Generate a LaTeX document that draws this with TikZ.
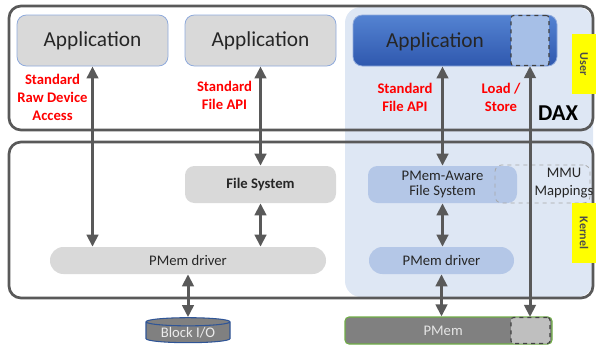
\documentclass[tikz,border=0pt]{standalone}
\usepackage{fontspec}
\setmainfont{Carlito}
\usetikzlibrary{arrows.meta,shapes.geometric}
\definecolor{framegray}{HTML}{595959}
\definecolor{boxgray}{HTML}{D9D9D9}
\definecolor{appedge}{HTML}{8FAADC}
\definecolor{paleblue}{HTML}{B4C7E7}
\definecolor{daxblue}{HTML}{DEE7F4}
\definecolor{apptop}{HTML}{5483D2}
\definecolor{appbot}{HTML}{2F58AE}
\definecolor{lsblue}{HTML}{A6BFE7}
\definecolor{pmemgray}{HTML}{808080}
\definecolor{pmemedge}{HTML}{70AD47}
\definecolor{blockedge}{HTML}{2F5597}
\definecolor{labred}{HTML}{FF0000}
\definecolor{tagyellow}{HTML}{FFFF00}
\begin{document}
\begin{tikzpicture}[x=0.75pt, y=-0.75pt,
  frame/.style={draw=framegray, line width=2pt, rounded corners=9pt},
  appbox/.style={draw=appedge, line width=0.6pt, rounded corners=7pt, minimum height=38.25pt,
    text=black!85, font=\fontsize{16}{19}\selectfont},
  layer/.style={rounded corners=7pt, minimum height=27.75pt, text=black!85, font=\fontsize{11}{11}\selectfont, align=center},
  drv/.style={rounded corners=10pt, minimum height=20.25pt, text=black!85, font=\fontsize{11}{13}\selectfont},
  dashbox/.style={draw=black!75, dashed, line width=0.8pt, rounded corners=2pt},
  redlab/.style={text=labred, align=center, font=\bfseries\fontsize{11}{13.5}\selectfont},
  tag/.style={fill=tagyellow, rotate=-90, minimum width=45pt, minimum height=18pt, inner sep=0pt,
    text=black!70, font=\bfseries\fontsize{9}{10}\selectfont},
  conn/.style={draw=framegray, line width=2.25pt, {Triangle[width=8.5pt,length=9pt]}-{Triangle[width=8.5pt,length=9pt]}}]
  \useasboundingbox (0,0) rectangle (596,350);

  % DAX area and the two layers
  \fill[daxblue, rounded corners=12pt] (345,7) rectangle (593,297);
  \draw[frame] (9,6) rectangle (593,130);
  \draw[frame] (9,142) rectangle (593,298);

  % user space
  \node[appbox, fill=boxgray, minimum width=113.25pt] (app1) at (92.5,40.5) {Application};
  \node[appbox, fill=boxgray, minimum width=113.25pt] (app2) at (260.5,40.5) {Application};
  \node[appbox, top color=apptop, bottom color=appbot, minimum width=153pt, text depth=0pt] (app3) at (455,40.5) {\hspace*{-30pt}Application};
  \node[dashbox, fill=lsblue, minimum width=28.5pt, minimum height=37.5pt] (ls) at (530,40.5) {};

  \node[redlab] (rawlab) at (52.5,97) {Standard\\Raw Device\\Access};
  \node[redlab] (filelab) at (224.5,95.5) {Standard\\File API};
  \node[redlab] (daxfilelab) at (405,97.5) {Standard\\File API};
  \node[redlab] (lslab) at (501,97.5) {Load /\\Store};
  \node[font=\bfseries\fontsize{17}{20}\selectfont] (dax) at (558,113) {DAX};

  % kernel space
  \node[layer, fill=boxgray, minimum width=113.25pt, font=\bfseries\fontsize{11}{11}\selectfont] (fs) at (260.5,184.5) {File System};
  \node[drv, fill=boxgray, minimum width=207pt] (drvL) at (188,260.5) {PMem driver};
  \node[layer, fill=paleblue, minimum width=111.75pt] (pfs) at (442.5,184.5) {PMem-Aware\\File System};
  \node[drv, fill=paleblue, minimum width=108.75pt] (pdrv) at (441.5,260.5) {PMem driver};
  \node[draw=black!35, dashed, line width=0.6pt, rounded corners=5pt, minimum width=71.25pt, minimum height=28.5pt] (mmu) at (542.5,184) {};
  \node[align=center, text=black!85, font=\fontsize{11}{13.5}\selectfont] (mmutext) at (564,183) {MMU\\Mappings};

  \node[tag] (user) at (584,64) {User};
  \node[tag] (kernel) at (584,233) {Kernel};

  % devices
  \node[cylinder, shape border rotate=90, aspect=0.15, draw=blockedge, line width=0.8pt, fill=pmemgray,
    minimum width=63pt, minimum height=18.75pt, inner sep=0pt, text=white!92!black,
    font=\fontsize{11}{13}\selectfont] (block) at (188,332.5) {Block I/O};
  \node[draw=pmemedge, fill=pmemgray, line width=0.8pt, rounded corners=3pt, minimum width=155.25pt,
    minimum height=20.25pt, text=white!90!black, font=\fontsize{11}{13}\selectfont] (pmem) at (448.5,330.5) {\hspace*{-8pt}PMem};
  \node[dashbox, fill=black!25, minimum width=29.25pt, minimum height=19.5pt] (pls) at (530.5,330.5) {};

  % connectors
  \draw[conn] (app1.south) -- (app1.south |- drvL.north);
  \draw[conn] (app2.south) -- (fs.north);
  \draw[conn] (fs.south) -- (fs.south |- drvL.north);
  \draw[conn] (drvL.south) -- (drvL.south |- block.north);
  \draw[conn] (app3.south -| pfs.north) -- (pfs.north);
  \draw[conn] (pfs.south) -- (pfs.south |- pdrv.north);
  \draw[conn] (pdrv.south) -- (pdrv.south |- pmem.north);
  \draw[conn] (ls.south) -- (ls.south |- pls.north);
\end{tikzpicture}
\end{document}
